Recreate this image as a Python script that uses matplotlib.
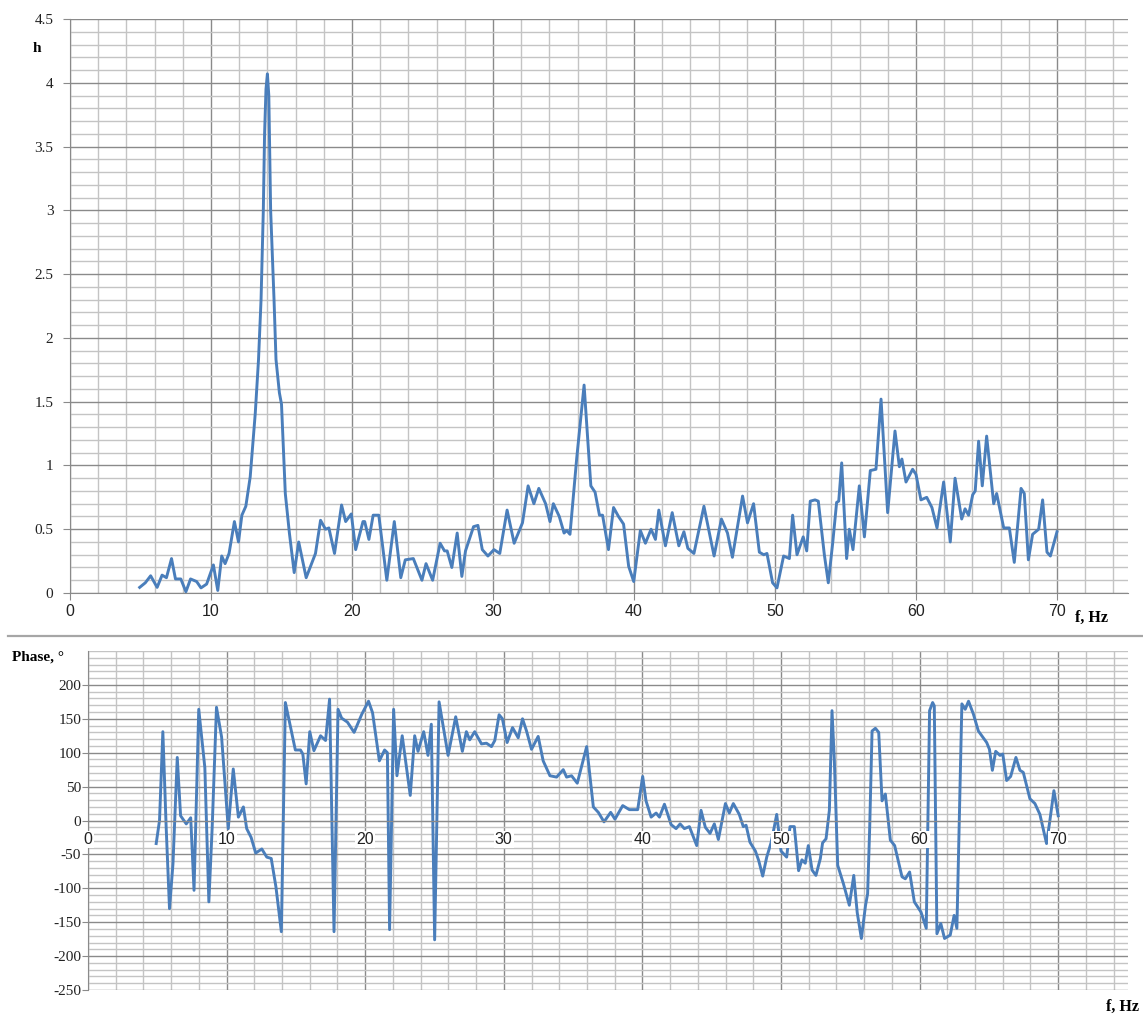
import matplotlib
matplotlib.use("Agg")
import matplotlib.pyplot as plt
from matplotlib.ticker import MultipleLocator, FixedLocator, NullFormatter
from matplotlib.lines import Line2D

plt.rcParams["axes.unicode_minus"] = False

# amplitude h(f)
freq_h = [4.94, 5.34, 5.72, 6.18, 6.53, 6.84, 7.2, 7.48, 7.86, 8.22, 8.55, 8.98, 9.29, 9.69,
          10.17, 10.48, 10.76, 11.0, 11.28, 11.66, 11.95, 12.19, 12.47, 12.78, 13.14, 13.37,
          13.55, 13.71, 13.8, 13.9, 14.0, 14.1, 14.23, 14.47, 14.61, 14.85, 15.0, 15.27, 15.56,
          15.9, 16.22, 16.75, 17.41, 17.77, 18.12, 18.36, 18.76, 19.26, 19.55, 19.95, 20.26,
          20.78, 20.9, 21.2, 21.5, 21.9, 22.47, 23.0, 23.46, 23.78, 24.35, 24.96, 25.25, 25.72,
          26.25, 26.56, 26.75, 27.08, 27.46, 27.79, 28.05, 28.62, 28.93, 29.24, 29.64, 30.07,
          30.48, 31.0, 31.5, 32.09, 32.49, 32.9, 33.25, 33.73, 34.04, 34.28, 34.7, 35.04, 35.23,
          35.46, 35.94, 36.46, 36.94, 37.24, 37.55, 37.77, 38.19, 38.55, 38.9, 39.26, 39.62,
          39.98, 40.45, 40.81, 41.21, 41.52, 41.76, 42.23, 42.71, 43.18, 43.54, 43.82, 44.25,
          44.96, 45.68, 46.2, 46.63, 46.98, 47.7, 48.05, 48.48, 48.89, 49.2, 49.43, 49.83,
          50.14, 50.61, 51.02, 51.25, 51.56, 52.0, 52.25, 52.5, 52.84, 53.07, 53.5, 53.78,
          54.09, 54.37, 54.52, 54.73, 55.08, 55.27, 55.53, 55.98, 56.34, 56.76, 57.16, 57.52,
          57.99, 58.51, 58.82, 59.0, 59.29, 59.76, 60.0, 60.35, 60.76, 61.13, 61.49, 61.96,
          62.43, 62.77, 63.24, 63.48, 63.73, 64.02, 64.2, 64.44, 64.7, 65.01, 65.51, 65.72,
          66.22, 66.62, 66.97, 67.45, 67.68, 67.97, 68.27, 68.7, 68.98, 69.29, 69.53, 70.0]
h_vals = [0.044, 0.08, 0.135, 0.044, 0.14, 0.12, 0.27, 0.11, 0.11, 0.01, 0.11, 0.09, 0.04, 0.07,
          0.22, 0.02, 0.29, 0.23, 0.31, 0.56, 0.40, 0.61, 0.68, 0.91, 1.41, 1.83,
          2.3, 3.0, 3.6, 3.95, 4.07, 3.9, 3.0, 2.3, 1.83, 1.57, 1.48, 0.78, 0.47,
          0.16, 0.40, 0.12, 0.31, 0.57, 0.50, 0.51, 0.31, 0.69, 0.56, 0.62, 0.34,
          0.56, 0.56, 0.42, 0.61, 0.61, 0.10, 0.56, 0.12, 0.26, 0.27, 0.10, 0.23, 0.10,
          0.39, 0.33, 0.33, 0.20, 0.47, 0.13, 0.33, 0.52, 0.53, 0.34, 0.29, 0.34,
          0.31, 0.65, 0.39, 0.55, 0.84, 0.70, 0.82, 0.70, 0.56, 0.70, 0.60, 0.47, 0.49,
          0.46, 1.06, 1.63, 0.84, 0.79, 0.61, 0.61, 0.34, 0.67, 0.60, 0.54, 0.21,
          0.09, 0.49, 0.39, 0.50, 0.42, 0.65, 0.37, 0.63, 0.37, 0.48, 0.35, 0.31,
          0.68, 0.29, 0.58, 0.47, 0.28, 0.76, 0.55, 0.70, 0.32, 0.30, 0.31, 0.08,
          0.04, 0.29, 0.27, 0.61, 0.30, 0.44, 0.33, 0.72, 0.73, 0.72, 0.30, 0.08,
          0.39, 0.71, 0.72, 1.02, 0.27, 0.50, 0.34, 0.84, 0.44, 0.96, 0.97, 1.52,
          0.63, 1.27, 0.99, 1.05, 0.87, 0.97, 0.93, 0.73, 0.75, 0.67, 0.51, 0.87,
          0.40, 0.90, 0.58, 0.66, 0.61, 0.77, 0.80, 1.19, 0.84, 1.23, 0.70, 0.78,
          0.51, 0.51, 0.24, 0.82, 0.78, 0.26, 0.46, 0.50, 0.73, 0.32, 0.29, 0.48]

# phase(f), degrees
freq_ph = [4.92, 5.16, 5.4, 5.64, 5.88, 6.13, 6.44, 6.68, 7.09, 7.41, 7.65, 7.99, 8.43, 8.72,
           8.96, 9.27, 9.64, 10.12, 10.48, 10.85, 11.21, 11.45, 11.77, 12.1, 12.54, 12.9, 13.22,
           13.56, 13.95, 14.24, 14.96, 15.33, 15.5, 15.74, 16.0, 16.3, 16.78, 17.14, 17.43,
           17.75, 18.04, 18.3, 18.72, 19.2, 19.76, 20.24, 20.53, 21.02, 21.4, 21.6, 21.76,
           22.05, 22.29, 22.67, 23.25, 23.57, 23.81, 24.22, 24.53, 24.77, 25.01, 25.33, 25.98,
           26.53, 27.01, 27.3, 27.54, 27.9, 28.39, 28.75, 29.11, 29.35, 29.66, 29.9, 30.24,
           30.63, 31.04, 31.35, 31.64, 32.0, 32.48, 32.84, 33.33, 33.81, 34.29, 34.53, 34.89,
           35.3, 35.98, 36.46, 36.82, 37.23, 37.71, 38.02, 38.58, 39.06, 39.66, 40.02, 40.26,
           40.63, 40.99, 41.23, 41.59, 42.07, 42.43, 42.72, 43.03, 43.39, 43.92, 44.23, 44.54,
           44.88, 45.19, 45.48, 45.99, 46.27, 46.56, 46.99, 47.28, 47.48, 47.76, 48.15, 48.39,
           48.68, 48.97, 49.28, 49.52, 49.69, 49.83, 50.0, 50.41, 50.65, 50.96, 51.27, 51.51,
           51.75, 51.97, 52.24, 52.52, 52.84, 53.0, 53.25, 53.49, 53.68, 53.85, 54.09, 54.5,
           54.93, 55.25, 55.5, 55.8, 56.1, 56.25, 56.4, 56.57, 56.81, 57.05, 57.29, 57.53,
           57.89, 58.2, 58.73, 58.97, 59.28, 59.62, 60.1, 60.48, 60.72, 60.94, 61.06, 61.25,
           61.53, 61.8, 62.21, 62.49, 62.69, 63.05, 63.29, 63.53, 63.88, 64.24, 64.84, 65.04,
           65.25, 65.49, 65.8, 66.0, 66.28, 66.57, 66.95, 67.24, 67.48, 67.96, 68.32, 68.68,
           69.16, 69.4, 69.69, 70.0]
phase_vals = [-34, 0, 131, -10, -130, -64, 93, 7, -5, 4, -103, 164, 78, -120,
              -10, 167, 123, -12, 76, 5, 20, -12, -25, -48, -42, -54, -56,
              -98, -164, 174, 104, 104, 98, 54, 131, 103, 125, 118, 179,
              -164, 164, 151, 145, 130, 157, 176, 159, 88, 104, 100, -161,
              164, 66, 125, 37, 125, 102, 131, 96, 142, -176, 175, 96,
              153, 102, 131, 119, 131, 113, 114, 109, 118, 156, 150, 115,
              137, 122, 150, 132, 105, 124, 88, 66, 64, 75, 64, 66,
              55, 109, 20, 12, -2, 12, 2, 22, 16, 16, 65, 29,
              5, 11, 5, 24, -6, -12, -5, -12, -9, -37, 15, -10,
              -19, -5, -28, 25, 11, 25, 9, -9, -7, -32, -45, -59,
              -82, -54, -33, -9, 9, -15, -45, -54, -9, -9, -74, -58,
              -63, -37, -73, -81, -56, -33, -27, 15, 162, 88, -66, -93,
              -125, -81, -136, -174, -125, -108, -10, 132, 136, 130, 29, 39,
              -29, -37, -83, -86, -76, -120, -135, -159, 162, 174, 169, -167,
              -152, -174, -169, -140, -159, 172, 164, 176, 157, 132, 115, 105,
              74, 102, 96, 98, 59, 65, 93, 74, 71, 32, 25, 9,
              -34, 0, 44, 7]

x_ticks = [0, 10, 20, 30, 40, 50, 60, 70]

line_color = "#4a7ebb"
major_grid = "#8a8a8a"
minor_grid = "#c4c4c4"
serif = ["Liberation Serif", "DejaVu Serif"]
sans = ["Liberation Sans", "DejaVu Sans"]

W, H = 1143, 1019
fig = plt.figure(figsize=(W / 100, H / 100), dpi=100)


def style_grid(ax):
    ax.grid(True, which="major", color=major_grid, lw=1.0)
    ax.grid(True, which="minor", color=minor_grid, lw=1.0)
    ax.set_axisbelow(True)
    for s in ["top", "right"]:
        ax.spines[s].set_visible(False)
    for s in ["left", "bottom"]:
        ax.spines[s].set_color(major_grid)
    ax.tick_params(which="minor", length=0)
    ax.tick_params(which="major", colors=major_grid)
    for lab in ax.get_yticklabels():
        lab.set_family(serif)
        lab.set_fontsize(11)
        lab.set_color("#222222")
    for lab in ax.get_xticklabels():
        lab.set_family(sans)
        lab.set_fontsize(11.5)
        lab.set_color("#222222")


# top: amplitude
ax1 = fig.add_axes([70 / W, 1 - 593 / H, 1057.5 / W, 574 / H])
ax1.plot(freq_h, h_vals, color=line_color, lw=2.1, solid_joinstyle="round")
ax1.set_xlim(0, 75)
ax1.set_ylim(0, 4.5)
ax1.xaxis.set_major_locator(FixedLocator(x_ticks))
ax1.xaxis.set_minor_locator(MultipleLocator(2))
ax1.set_yticks([0, 0.5, 1, 1.5, 2, 2.5, 3, 3.5, 4, 4.5])
ax1.set_yticklabels(["0", "0.5", "1", "1.5", "2", "2.5", "3", "3.5", "4", "4.5"])
ax1.yaxis.set_minor_locator(MultipleLocator(0.1))
ax1.tick_params(axis="y", which="major", length=5, pad=7)
ax1.tick_params(axis="x", which="major", length=5, pad=3)
style_grid(ax1)

# bottom: phase
ax2 = fig.add_axes([88 / W, 1 - 990 / H, 1039.5 / W, 339 / H])
ax2.plot(freq_ph, phase_vals, color=line_color, lw=2.1, solid_joinstyle="round")
ax2.set_xlim(0, 75)
ax2.set_ylim(-250, 250)
ax2.xaxis.set_major_locator(FixedLocator(x_ticks))
ax2.xaxis.set_minor_locator(MultipleLocator(2))
ax2.xaxis.set_major_formatter(NullFormatter())
ax2.set_yticks(list(range(-250, 201, 50)))
ax2.yaxis.set_minor_locator(MultipleLocator(10))
ax2.spines["bottom"].set_position(("data", 0))
ax2.tick_params(axis="y", which="major", length=4, pad=1)
ax2.tick_params(axis="x", which="major", length=0)
style_grid(ax2)
# frequency labels sit just under the zero line, on white patches above the curve
for t in x_ticks:
    ax2.annotate(str(t), (t, 0), xytext=(0, -13.5), textcoords="offset points",
                 ha="center", va="center", family=sans, fontsize=11.5, color="#222222",
                 zorder=3, bbox=dict(facecolor="white", edgecolor="none", pad=0.8))

# separator between the two charts
fig.add_artist(Line2D([8 / W, 1], [1 - 636 / H] * 2, color="#a6a6a6", lw=1.6))

# axis captions
fig.text(37 / W, 1 - 48 / H, "h", family=serif, weight="bold", fontsize=11,
         ha="center", va="center")
fig.text(1075 / W, 1 - 618 / H, "f, Hz", family=serif, weight="bold", fontsize=11.5,
         ha="left", va="center")
fig.text(12 / W, 1 - 657 / H, "Phase, °", family=serif, weight="bold", fontsize=11,
         ha="left", va="center")
fig.text(1139 / W, 1 - 1007 / H, "f, Hz", family=serif, weight="bold", fontsize=11.5,
         ha="right", va="center")

fig.savefig("out.png", dpi=100, facecolor="white")
